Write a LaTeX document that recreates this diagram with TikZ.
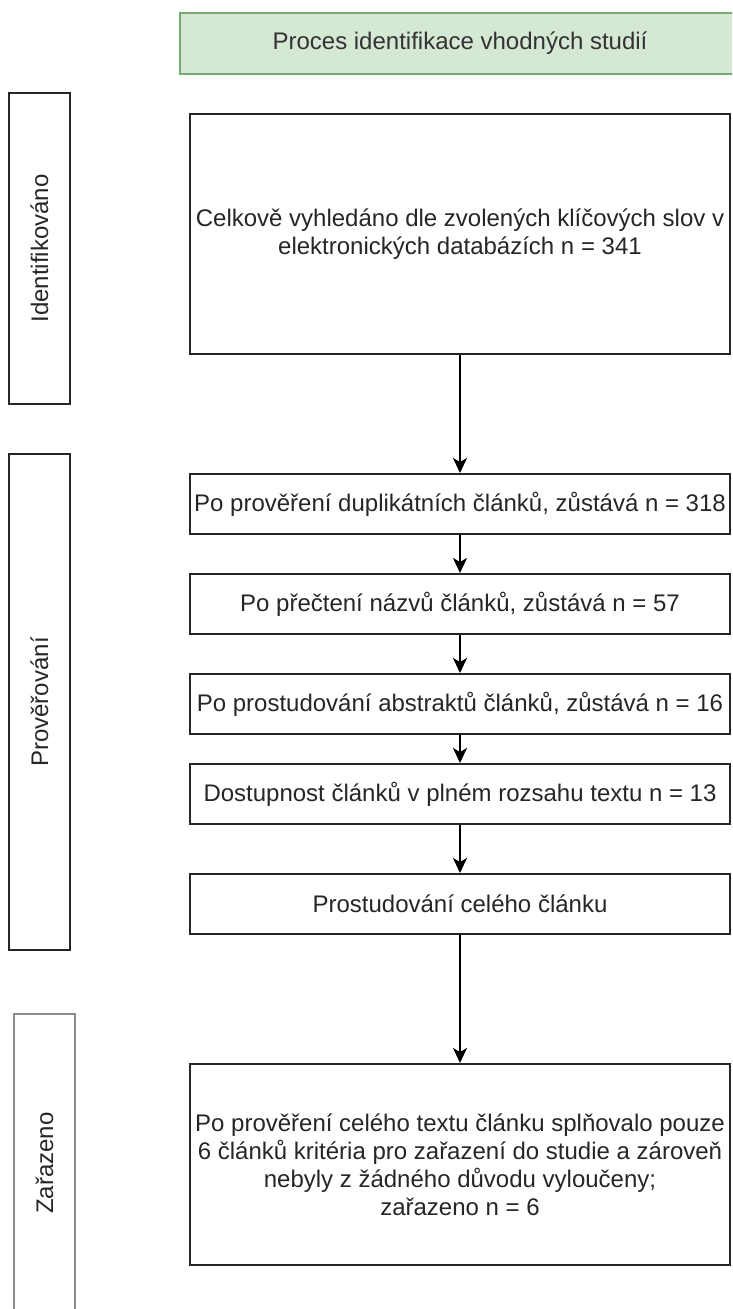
\documentclass[tikz,border=0pt]{standalone}
\usepackage{fontspec}
\setmainfont{Liberation Sans}
\usepackage{tikz}
\usetikzlibrary{arrows.meta,positioning}

\begin{document}
\begin{tikzpicture}
	[ x=0.5pt, y=-0.5pt,
	  font=\fontsize{12pt}{14pt}\selectfont,
	  box/.style={ draw=black!85, line width=1pt, fill=white, text=black!85,
	               align=center, inner sep=2pt, minimum width=270pt },
	  phase/.style={ draw=black!85, line width=1pt, rotate=90, text=black!85,
	                 inner sep=0pt, minimum height=30.5pt },
	  head/.style={ draw=green!40!black!55, fill={rgb,255:red,213;green,232;blue,212},
	                line width=1pt, text=black!80, minimum width=280pt, minimum height=30.5pt },
	  arr/.style={ -{Stealth[length=7.5pt,width=7pt,inset=2pt]}, line width=1pt, draw=black }
	]
	\useasboundingbox (0,0) rectangle (732,1309);
	\clip (0,0) rectangle (732,1309);

	% title
	\node[head] (title) at (460,43.5) {Proces identifikace vhodných studií};

	% phases on the left
	\node[phase, minimum width=155.5pt] (ident) at (39.5,248.5) {Identifikováno};
	\node[phase, minimum width=248pt] (prov) at (39.5,702) {Prověřování};
	\node[phase, minimum width=149pt, draw=black!45] (zar) at (44.5,1163) {Zařazeno};

	% flow boxes
	\node[box, minimum height=120pt] (b1) at (460,234)
		{Celkově vyhledáno dle zvolených klíčových slov v\\ elektronických databázích n = 341};
	\node[box, minimum height=30pt] (b2) at (460,504)
		{Po prověření duplikátních článků, zůstává n = 318};
	\node[box, minimum height=30pt] (b3) at (460,604)
		{Po přečtení názvů článků, zůstává n = 57};
	\node[box, minimum height=30pt] (b4) at (460,704)
		{Po prostudování abstraktů článků, zůstává n = 16};
	\node[box, minimum height=30pt] (b5) at (460,794)
		{Dostupnost článků v plném rozsahu textu n = 13};
	\node[box, minimum height=30pt] (b6) at (460,904)
		{Prostudování celého článku};
	\node[box, minimum height=100.5pt] (b7) at (460,1164.5)
		{Po prověření celého textu článku splňovalo pouze\\
		 6 článků kritéria pro zařazení do studie a zároveň\\
		 nebyly z žádného důvodu vyloučeny;\\
		 zařazeno n = 6};

	% arrows
	\foreach \a/\b in {b1/b2,b2/b3,b3/b4,b4/b5,b5/b6,b6/b7}{
		\draw[arr] (\a.south) -- (\b.north);
	}
\end{tikzpicture}
\end{document}
